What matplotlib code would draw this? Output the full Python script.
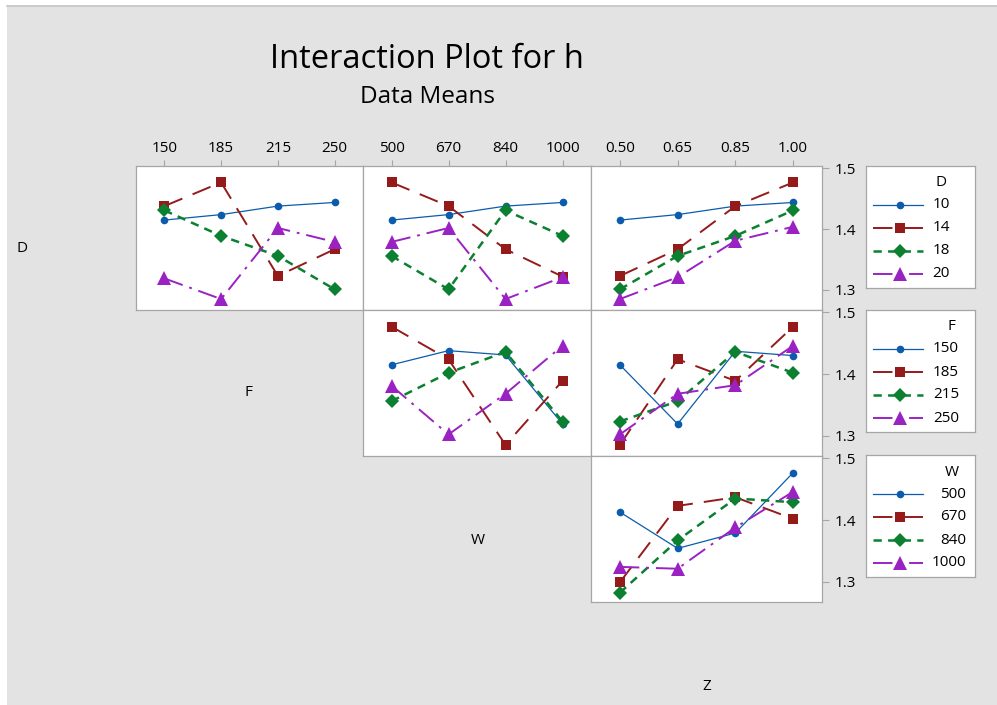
import matplotlib

matplotlib.use("Agg")
import matplotlib.pyplot as plt
from matplotlib.lines import Line2D
from matplotlib.patches import Rectangle

plt.rcParams["font.family"] = ["Open Sans", "DejaVu Sans"]
plt.rcParams["lines.scale_dashes"] = False

# factor levels
d_levels = ["10", "14", "18", "20"]
f_levels = ["150", "185", "215", "250"]
w_levels = ["500", "670", "840", "1000"]
z_levels = ["0.50", "0.65", "0.85", "1.00"]

# means of h, one row per trace level, one column per x level
d_by_f = [[1.415, 1.424, 1.438, 1.444],
          [1.438, 1.477, 1.323, 1.367],
          [1.431, 1.389, 1.356, 1.301],
          [1.319, 1.285, 1.402, 1.379]]
d_by_w = [[1.415, 1.424, 1.438, 1.444],
          [1.477, 1.438, 1.367, 1.322],
          [1.356, 1.301, 1.431, 1.389],
          [1.379, 1.402, 1.285, 1.321]]
d_by_z = [[1.415, 1.424, 1.438, 1.444],
          [1.323, 1.367, 1.438, 1.477],
          [1.301, 1.356, 1.389, 1.431],
          [1.285, 1.321, 1.381, 1.404]]
f_by_w = [[1.415, 1.438, 1.431, 1.319],
          [1.477, 1.424, 1.285, 1.389],
          [1.356, 1.402, 1.436, 1.323],
          [1.381, 1.302, 1.368, 1.446]]
f_by_z = [[1.415, 1.319, 1.437, 1.430],
          [1.285, 1.424, 1.389, 1.477],
          [1.323, 1.356, 1.436, 1.402],
          [1.302, 1.368, 1.382, 1.446]]
w_by_z = [[1.413, 1.354, 1.379, 1.477],
          [1.299, 1.423, 1.437, 1.402],
          [1.282, 1.367, 1.435, 1.429],
          [1.324, 1.321, 1.388, 1.446]]

yticks = [1.3, 1.4, 1.5]

W, H = 997, 705
colors = ["#0b5cad", "#951b1b", "#0b8030", "#9b22c2"]
markers = ["o", "s", "D", "^"]
msizes = [5.5, 7, 7, 10]
lwidths = [0.9, 1.4, 1.8, 1.4]
lstyles = ["-", (0, (14, 8)), (0, (6, 4.5)), (0, (14, 5, 2, 5))]
frame = "#a6a6a6"
fs = 11


def box(l, t, r, b):
    return [l / W, 1 - b / H, (r - l) / W, (b - t) / H]


fig = plt.figure(figsize=(W / 100, H / 100), dpi=100, facecolor="white")
fig.patches.append(Rectangle((7 / W, 0), 1, 1 - 6 / H, transform=fig.transFigure,
                             facecolor="#e3e3e3", edgecolor="none", zorder=-5))
fig.add_artist(Line2D([7 / W, 1], [1 - 6 / H, 1 - 6 / H], color="#c4c4c4", lw=1.2))

cols = [(136, 363), (363, 591), (591, 822)]
rows = [(166, 310), (310, 456), (456, 602)]
xlabels = [f_levels, w_levels, z_levels]
panels = [(0, 0, d_by_f), (0, 1, d_by_w), (0, 2, d_by_z),
          (1, 1, f_by_w), (1, 2, f_by_z), (2, 2, w_by_z)]

for r, c, table in panels:
    l, rr = cols[c]
    t, b = rows[r]
    ax = fig.add_axes(box(l, t, rr, b))
    for i, series in enumerate(table):
        ax.plot(range(4), series, color=colors[i], marker=markers[i], ms=msizes[i],
                lw=lwidths[i], ls=lstyles[i], markeredgewidth=0)
    ax.set_xlim(-0.5, 3.5)
    ax.set_ylim(1.267, 1.504)
    for s in ax.spines.values():
        s.set_color(frame)
        s.set_linewidth(0.9)
    if r == 0:
        ax.xaxis.tick_top()
        ax.set_xticks(range(4), xlabels[c], fontsize=fs)
        ax.tick_params(axis="x", length=4, color=frame, pad=3)
    else:
        ax.set_xticks([])
    if c == 2:
        ax.yaxis.tick_right()
        ax.set_yticks(yticks, [f"{v:.1f}" for v in yticks], fontsize=fs)
        ax.tick_params(axis="y", length=5, color=frame, pad=4)
    else:
        ax.set_yticks([])

# legends
legends = [("D", d_levels, 166, 941, 950),
           ("F", f_levels, 310, 951, 959),
           ("W", w_levels, 455, 952, 966)]
for name, levels, top, title_x, label_x in legends:
    lax = fig.add_axes(box(866, top, 975, top + 122))
    lax.set_xlim(866, 975)
    lax.set_ylim(top + 122, top)
    lax.set_xticks([])
    lax.set_yticks([])
    for s in lax.spines.values():
        s.set_color(frame)
        s.set_linewidth(0.9)
    lax.text(title_x, top + 17, name, ha="center", va="center", fontsize=fs)
    for i, lev in enumerate(levels):
        y = top + [39, 62, 85, 108][i]
        lax.plot([873, 923], [y, y], color=colors[i], lw=lwidths[i], ls=lstyles[i])
        lax.plot([900], [y], color=colors[i], marker=markers[i], ms=msizes[i],
                 markeredgewidth=0)
        lax.text(label_x, y, lev, ha="right", va="center", fontsize=fs)

# factor labels on the diagonal
for name, x, y in [("D", 22, 248), ("F", 248, 393), ("W", 478, 540), ("Z", 707, 686)]:
    fig.text(x / W, 1 - y / H, name, ha="center", va="center", fontsize=fs)

fig.text(427 / W, 1 - 60 / H, "Interaction Plot for h", ha="center", va="center",
         fontsize=23.5)
fig.text(427 / W, 1 - 97 / H, "Data Means", ha="center", va="center", fontsize=17.5)

fig.savefig("out.png", dpi=100, facecolor=fig.get_facecolor())
plt.close(fig)
